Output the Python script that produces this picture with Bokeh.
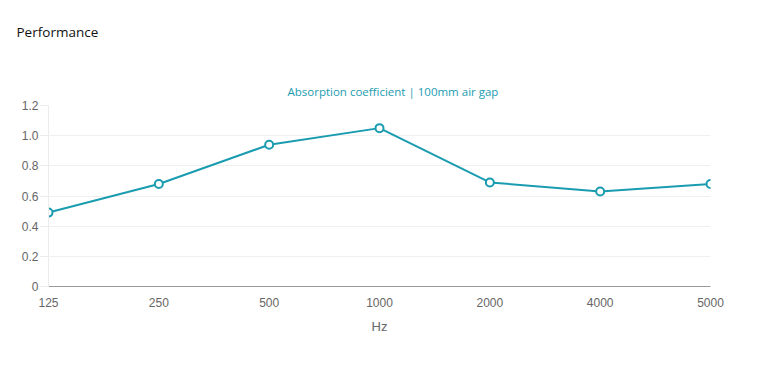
from bokeh.plotting import figure
from bokeh.models import FixedTicker, Title, Range1d
from bokeh.embed import file_html
from bokeh.resources import INLINE

frequencies = ["125", "250", "500", "1000", "2000", "4000", "5000"]
absorption = [0.49, 0.68, 0.94, 1.05, 0.69, 0.63, 0.68]
y_ticks = [0, 0.2, 0.4, 0.6, 0.8, 1.0, 1.2]
y_tick_labels = ["0", "0.2", "0.4", "0.6", "0.8", "1.0", "1.2"]

TEAL = "#1a9cb0"
positions = list(range(len(frequencies)))

p = figure(width=767, height=378, output_backend="svg", toolbar_location=None,
           x_range=Range1d(0, len(frequencies) - 1), y_range=Range1d(0, 1.2),
           min_border_left=48, min_border_right=57, min_border_top=105, min_border_bottom=92,
           title="Performance")
p.outline_line_color = None
p.background_fill_color = "white"
p.border_fill_color = "white"

# outermost title: "Performance"
p.title.align = "left"
p.title.offset = -32
p.title.standoff = 0
p.title.text_font = "Open Sans"
p.title.text_font_size = "13.5px"
p.title.text_font_style = "normal"
p.title.text_color = "#111111"

# chart subtitle (nearest the frame)
p.add_layout(Title(text="Absorption coefficient | 100mm air gap", align="left", offset=239,
                   standoff=13, text_font="Open Sans", text_font_size="11.5px",
                   text_font_style="normal", text_color=TEAL), "above")
# spacer between the two titles
p.add_layout(Title(text=" ", standoff=32, text_font_size="1px"), "above")

p.line(positions, absorption, line_color=TEAL, line_width=2)
p.scatter(positions, absorption, size=8, fill_color="white", line_color=TEAL, line_width=2)

# x axis
p.xaxis.ticker = FixedTicker(ticks=positions)
p.xaxis.major_label_overrides = {i: f for i, f in enumerate(frequencies)}
p.xaxis.axis_line_color = "#9a9a9a"
p.xaxis.major_tick_line_color = None
p.xaxis.minor_tick_line_color = None
p.xaxis.major_label_text_font = "Liberation Sans"
p.xaxis.major_label_text_font_size = "12px"
p.xaxis.major_label_text_color = "#666666"
p.xaxis.major_label_standoff = 5
p.xaxis.axis_label = "Hz"
p.xaxis.axis_label_text_font = "Liberation Sans"
p.xaxis.axis_label_text_font_style = "normal"
p.xaxis.axis_label_text_font_size = "13px"
p.xaxis.axis_label_text_color = "#666666"
p.xaxis.axis_label_standoff = 9
p.xgrid.grid_line_color = None

# y axis
p.yaxis.ticker = FixedTicker(ticks=y_ticks)
p.yaxis.major_label_overrides = {t: l for t, l in zip(y_ticks, y_tick_labels)}
p.yaxis.axis_line_color = "#ececec"
p.yaxis.major_tick_line_color = "#ececec"
p.yaxis.major_tick_out = 8
p.yaxis.major_tick_in = 0
p.yaxis.minor_tick_line_color = None
p.yaxis.major_label_text_font = "Liberation Sans"
p.yaxis.major_label_text_font_size = "12px"
p.yaxis.major_label_text_color = "#666666"
p.yaxis.major_label_standoff = 2
p.ygrid.grid_line_color = "#f0f0f0"

open("out.html", "w").write(file_html(p, INLINE))
